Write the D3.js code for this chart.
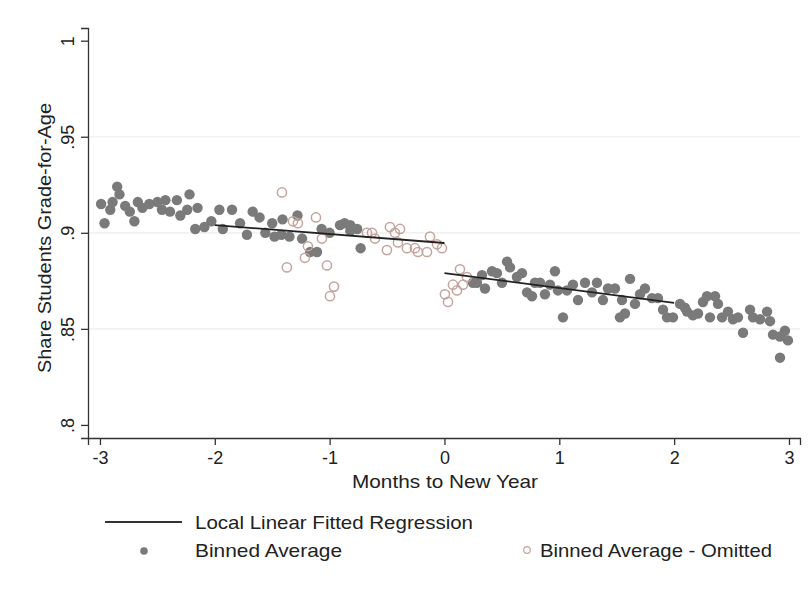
<!DOCTYPE html>
<html><head><meta charset="utf-8">
<script src="https://cdn.jsdelivr.net/npm/d3@7"></script>
<style>body{margin:0;background:#fff;} text{font-family:"Liberation Sans",Arial,Helvetica,sans-serif;fill:#222;}</style>
</head><body><svg id="c" width="809" height="591"></svg>
<script>
// Binned averages (solid), left of window
const solidLeft = [
[-2.99,.915],[-2.96,.905],[-2.91,.912],[-2.89,.916],[-2.85,.924],[-2.83,.920],[-2.78,.914],[-2.74,.911],
[-2.70,.906],[-2.67,.916],[-2.63,.913],[-2.57,.915],[-2.50,.916],[-2.46,.912],[-2.43,.917],[-2.39,.911],
[-2.33,.917],[-2.30,.909],[-2.24,.912],[-2.22,.920],[-2.17,.902],[-2.15,.913],[-2.09,.903],[-2.03,.906],
[-1.96,.912],[-1.93,.902],[-1.85,.912],[-1.78,.905],[-1.72,.899],[-1.67,.911],[-1.61,.908],[-1.56,.900],
[-1.50,.905],[-1.48,.898],[-1.42,.899],[-1.41,.907],[-1.35,.898],[-1.28,.909],[-1.24,.897],[-1.17,.890],
[-1.11,.890],[-1.07,.902],[-1.00,.900],[-0.91,.904],[-0.87,.905],[-0.82,.904],[-0.82,.901],[-0.76,.902],[-0.73,.892]
];
// Binned averages (solid), right of window
const solidRight = [
[0.248,.874],[0.283,.874],[0.327,.878],[0.353,.871],[0.414,.880],[0.457,.879],[0.501,.874],[0.545,.885],
[0.571,.882],[0.631,.877],[0.675,.879],[0.719,.869],[0.762,.867],[0.788,.874],[0.832,.874],[0.875,.868],
[0.919,.873],[0.962,.880],[0.988,.870],[1.032,.856],[1.067,.870],[1.119,.873],[1.163,.865],[1.224,.874],
[1.285,.869],[1.328,.874],[1.380,.865],[1.424,.871],[1.485,.871],[1.528,.856],[1.546,.865],[1.572,.858],
[1.616,.876],[1.659,.863],[1.703,.868],[1.746,.871],[1.807,.866],[1.859,.866],[1.903,.860],[1.938,.856],
[1.990,.856],[2.051,.863],[2.094,.861],[2.112,.859],[2.164,.857],[2.208,.858],[2.251,.864],[2.286,.867],
[2.312,.856],[2.356,.867],[2.382,.863],[2.417,.856],[2.469,.859],[2.512,.855],[2.556,.856],[2.600,.848],
[2.661,.860],[2.687,.856],[2.748,.855],[2.809,.859],[2.835,.854],[2.861,.847],[2.922,.846],[2.922,.835],
[2.965,.849],[2.991,.844]
];
// Binned averages omitted (hollow)
const omitted = [
[-1.415,.921],[-1.372,.882],[-1.319,.906],[-1.276,.905],[-1.215,.887],[-1.189,.893],[-1.119,.908],[-1.067,.897],
[-1.023,.883],[-0.997,.867],[-0.962,.872],[-0.675,.900],[-0.631,.900],[-0.605,.897],[-0.501,.891],[-0.475,.903],
[-0.431,.900],[-0.405,.895],[-0.387,.902],[-0.327,.892],[-0.257,.892],[-0.231,.890],[-0.152,.890],[-0.126,.898],
[-0.065,.894],[-0.022,.892],[0.004,.868],[0.031,.864],[0.074,.873],[0.109,.870],[0.135,.881],[0.161,.873],[0.196,.877]
];
// Local linear fits
const fitLeft = [[-2,.904],[0,.8947]];
const fitRight = [[0,.879],[2,.8635]];
const xTicks = [-3,-2,-1,0,1,2,3];
const yTicks = [.8,.85,.9,.95,1];
const yTickLabels = [".8",".85",".9",".95","1"];
const gridTicks = [.85,.9,.95];

const svg = d3.select("#c");
const x = d3.scaleLinear().domain([-3.104,3.096]).range([88,800]);
const y = d3.scaleLinear().domain([0.7932,1.0066]).range([438,28]);

// gridlines
svg.append("g").selectAll("line").data(gridTicks).join("line")
  .attr("x1",89).attr("x2",800).attr("y1",d=>y(d)).attr("y2",d=>y(d))
  .attr("stroke","#ececec").attr("stroke-width",1.2);

// axes
const xAxis = svg.append("g").attr("transform","translate(0,438)")
  .call(d3.axisBottom(x).tickValues(xTicks).tickSize(7).tickPadding(5).tickFormat(d=>d));
const yAxis = svg.append("g").attr("transform","translate(88,0)")
  .call(d3.axisLeft(y).tickValues(yTicks).tickSize(7).tickFormat((d,i)=>yTickLabels[i]));
[xAxis,yAxis].forEach(a=>{
  a.select(".domain").attr("stroke","#333").attr("stroke-width",1.3);
  a.selectAll(".tick line").attr("stroke","#333").attr("stroke-width",1.3);
  a.selectAll(".tick text").attr("font-size",18).attr("fill","#222")
   .style("font-family","'Liberation Sans',Arial,sans-serif");
});
xAxis.selectAll(".tick text").attr("dy","0.75em");
yAxis.selectAll(".tick text")
  .attr("text-anchor","middle").attr("x",null).attr("dy",null)
  .attr("transform","translate(-14,0) rotate(-90)");

// axis titles
svg.append("text").attr("x",352).attr("y",488).attr("font-size",19)
  .attr("textLength",186).attr("lengthAdjust","spacingAndGlyphs").text("Months to New Year");
svg.append("text").attr("transform","translate(51,373) rotate(-90)")
  .attr("font-size",19).attr("textLength",270).attr("lengthAdjust","spacingAndGlyphs")
  .text("Share Students Grade-for-Age");

// points
svg.append("g").selectAll("circle").data(solidLeft.concat(solidRight)).join("circle")
  .attr("cx",d=>x(d[0])).attr("cy",d=>y(d[1])).attr("r",5.2).attr("fill","#7a7a7a");
svg.append("g").selectAll("circle").data(omitted).join("circle")
  .attr("cx",d=>x(d[0])).attr("cy",d=>y(d[1])).attr("r",4.6).attr("fill","none")
  .attr("stroke","#c4a49e").attr("stroke-width",1.5);

// fit lines
const line = d3.line().x(d=>x(d[0])).y(d=>y(d[1]));
[fitLeft,fitRight].forEach(f=>svg.append("path").attr("d",line(f)).attr("fill","none")
  .attr("stroke","#222").attr("stroke-width",1.8));

// legend
const lg = svg.append("g");
lg.append("line").attr("x1",105).attr("x2",182).attr("y1",522).attr("y2",522).attr("stroke","#333").attr("stroke-width",2);
lg.append("text").attr("x",195).attr("y",529).attr("font-size",19)
  .attr("textLength",278).attr("lengthAdjust","spacingAndGlyphs").text("Local Linear Fitted Regression");
lg.append("circle").attr("cx",144).attr("cy",551).attr("r",3.8).attr("fill","#7a7a7a");
lg.append("text").attr("x",195).attr("y",557).attr("font-size",19)
  .attr("textLength",147).attr("lengthAdjust","spacingAndGlyphs").text("Binned Average");
lg.append("circle").attr("cx",527).attr("cy",550).attr("r",3.3).attr("fill","none").attr("stroke","#c4a49e").attr("stroke-width",1.2);
lg.append("text").attr("x",540).attr("y",557).attr("font-size",19)
  .attr("textLength",232).attr("lengthAdjust","spacingAndGlyphs").text("Binned Average - Omitted");
</script></body></html>
